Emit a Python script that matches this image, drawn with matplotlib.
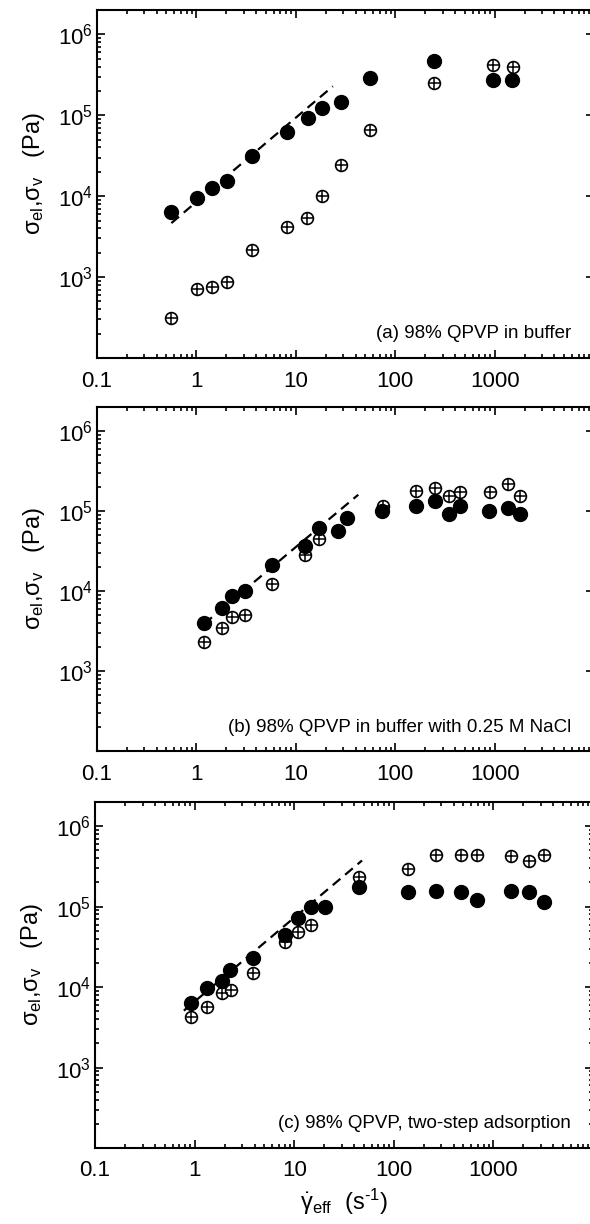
import numpy as np
import matplotlib
matplotlib.use('Agg')
import matplotlib.pyplot as plt
from matplotlib.ticker import LogLocator, NullFormatter

# ==============================================================================
# DATA
# ==============================================================================
# (a) 98% QPVP in buffer
a_x_el = [0.56, 1.02, 1.42, 2.02, 3.6, 8.2, 13.2, 18.4, 28.5, 56, 246, 955, 1480]
a_y_el = [6300, 9400, 12600, 15300, 31000, 62000, 92000, 122000, 145000, 288000, 464000, 270000, 270000]
a_x_v = [0.56, 1.02, 1.42, 2.02, 3.6, 8.2, 13.0, 18.4, 28.5, 56, 246, 955, 1520]
a_y_v = [312, 711, 752, 870, 2150, 4150, 5350, 10000, 24000, 66000, 248000, 415000, 400000]
a_fit_x = [0.56, 23.6]
a_fit_y = [4650, 228000]

# (b) 98% QPVP in buffer with 0.25 M NaCl
b_x_el = [1.2, 1.83, 2.3, 3.1, 5.8, 12.5, 17.2, 26.7, 33, 74, 162, 251, 350, 450, 880, 1350, 1820]
b_y_el = [4000, 6100, 8700, 10000, 21000, 37000, 62000, 57000, 81000, 100000, 117000, 135000,
          93000, 115000, 100000, 110000, 91000]
b_x_v = [1.2, 1.83, 2.3, 3.1, 5.8, 12.5, 17.2, 76, 162, 251, 350, 450, 900, 1350, 1820]
b_y_v = [2330, 3450, 4750, 5000, 12200, 28000, 45000, 116000, 178000, 196000, 155000, 175000,
         175000, 220000, 155000]
b_fit_x = [1.2, 42.5]
b_fit_y = [3900, 160000]

# (c) 98% QPVP, two-step adsorption
c_x_el = [0.91, 1.32, 1.87, 2.25, 3.9, 8.0, 11.0, 14.6, 20.3, 44.5, 138, 265, 470, 680, 1500, 2300, 3200]
c_y_el = [6300, 9700, 12000, 16300, 23000, 45000, 72000, 99000, 100000, 176000, 152000, 155000,
          150000, 120000, 155000, 150000, 114000]
c_x_v = [0.91, 1.32, 1.87, 2.3, 3.9, 8.0, 10.9, 14.6, 44.5, 138, 265, 470, 680, 1500, 2300, 3200]
c_y_v = [4300, 5600, 8400, 9100, 15000, 36000, 48000, 59000, 235000, 296000, 445000, 445000,
         445000, 430000, 370000, 445000]
c_fit_x = [0.78, 48]
c_fit_y = [5100, 375000]

labels = ['(a) 98% QPVP in buffer',
          '(b) 98% QPVP in buffer with 0.25 M NaCl',
          '(c) 98% QPVP, two-step adsorption']

# ==============================================================================
# STYLE
# ==============================================================================
plt.rcParams['font.family'] = ['Liberation Sans', 'DejaVu Sans']
plt.rcParams['mathtext.fontset'] = 'custom'
plt.rcParams['mathtext.rm'] = 'Liberation Sans'
plt.rcParams['mathtext.it'] = 'Liberation Sans'
plt.rcParams['mathtext.bf'] = 'Liberation Sans:bold'

W, H = 590, 1224
fig = plt.figure(figsize=(W / 100, H / 100), dpi=100)

# axes boxes in pixels: (left, top, right, bottom)
boxes = [(97, 10, 594, 358), (97, 407, 594, 751), (95, 802, 593, 1148)]

panels = [
    (a_x_el, a_y_el, a_x_v, a_y_v, a_fit_x, a_fit_y),
    (b_x_el, b_y_el, b_x_v, b_y_v, b_fit_x, b_fit_y),
    (c_x_el, c_y_el, c_x_v, c_y_v, c_fit_x, c_fit_y),
]

for i, ((l, t, r, b), (xe, ye, xv, yv, fx, fy)) in enumerate(zip(boxes, panels)):
    ax = fig.add_axes([l / W, 1 - b / H, (r - l) / W, (b - t) / H])
    ax.set_xscale('log')
    ax.set_yscale('log')
    ax.set_xlim(0.1, 1e4)
    ax.set_ylim(1e2, 2e6)

    # dashed power-law line
    ax.plot(fx, fy, ls=(0, (4.5, 2.8)), color='black', lw=1.6, zorder=2)
    # crossed open circles (sigma_v)
    ax.plot(xv, yv, 'o', ms=8.5, mfc='white', mec='black', mew=1.2, ls='none', zorder=3)
    ax.plot(xv, yv, '+', ms=8.5, mec='black', mew=1.1, ls='none', zorder=4)
    # filled circles (sigma_el)
    ax.plot(xe, ye, 'o', ms=10, color='black', ls='none', zorder=5)

    ax.text(0.955, 0.045, labels[i], transform=ax.transAxes, ha='right', va='bottom',
            fontsize=13.5)

    ax.xaxis.set_minor_locator(LogLocator(base=10, subs=np.arange(2, 10), numticks=20))
    ax.yaxis.set_minor_locator(LogLocator(base=10, subs=np.arange(2, 10), numticks=20))
    ax.xaxis.set_minor_formatter(NullFormatter())
    ax.yaxis.set_minor_formatter(NullFormatter())
    ax.set_xticks([0.1, 1, 10, 100, 1000])
    ax.set_xticklabels(['0.1', '1', '10', '100', '1000'])
    ax.set_yticks([1e3, 1e4, 1e5, 1e6])
    ax.set_yticklabels([r'$10^3$', r'$10^4$', r'$10^5$', r'$10^6$'])

    ax.tick_params(which='both', direction='in', top=True, right=True, labelsize=16, width=1.2)
    ax.tick_params(which='major', length=6)
    ax.tick_params(which='minor', length=3)
    ax.tick_params(axis='x', pad=9)
    ax.tick_params(axis='y', pad=3)
    for sp in ax.spines.values():
        sp.set_linewidth(1.5)

    ax.set_ylabel(r'$\sigma_{el}$,$\sigma_v$   (Pa)', fontsize=17)
    ax.yaxis.set_label_coords(-0.10, 0.53)

    if i == 2:
        ax.set_xlabel('$\\dot{\\gamma}_{eff}$  (s$^{\\mathrm{\u2010}1}$)', fontsize=17)

plt.savefig('out.png', dpi=100)
plt.close()
print("[+] Done!")
